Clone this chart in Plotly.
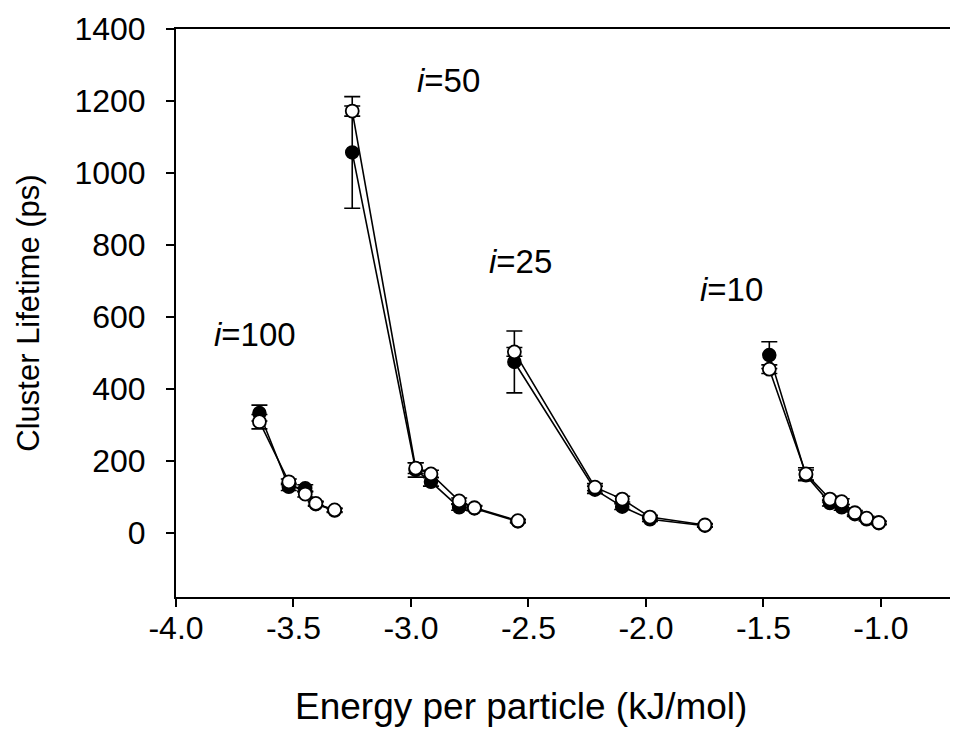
import plotly.graph_objects as go

# ---- data ----
groups = ["i=100", "i=50", "i=25", "i=10"]

energy_i100 = [-3.645, -3.52, -3.45, -3.405, -3.325]
filled_i100 = [333, 128, 124, 80, 62]
filled_err_i100 = [22, 10, 10, 6, 5]
open_i100 = [309, 142, 108, 82, 64]
open_err_i100 = [20, 8, 8, 6, 5]

energy_i50 = [-3.25, -2.98, -2.915, -2.795, -2.73, -2.545]
filled_i50 = [1057, 175, 142, 71, 68, 32]
filled_err_i50 = [155, 20, 12, 8, 6, 4]
open_i50 = [1172, 180, 164, 89, 70, 34]
open_err_i50 = [14, 15, 10, 8, 6, 4]

energy_i25 = [-2.56, -2.217, -2.101, -1.983, -1.749]
filled_i25 = [475, 120, 73, 38, 20]
filled_err_i25 = [86, 10, 8, 6, 4]
open_i25 = [503, 127, 94, 44, 22]
open_err_i25 = [12, 10, 8, 5, 4]

energy_i10 = [-1.475, -1.319, -1.217, -1.167, -1.111, -1.061, -1.009]
filled_i10 = [494, 160, 83, 71, 52, 38, 27]
filled_err_i10 = [37, 15, 8, 8, 6, 5, 4]
open_i10 = [455, 164, 94, 87, 56, 41, 29]
open_err_i10 = [12, 17, 8, 8, 6, 5, 4]

label_x = [-3.847, -2.983, -2.677, -1.779]
label_y = [550, 1258, 753, 675]

x_ticks = [-4.0, -3.5, -3.0, -2.5, -2.0, -1.5, -1.0]
y_ticks = [0, 200, 400, 600, 800, 1000, 1200, 1400]

series = [
    (energy_i100, filled_i100, filled_err_i100, open_i100, open_err_i100),
    (energy_i50, filled_i50, filled_err_i50, open_i50, open_err_i50),
    (energy_i25, filled_i25, filled_err_i25, open_i25, open_err_i25),
    (energy_i10, filled_i10, filled_err_i10, open_i10, open_err_i10),
]

FONT = "Liberation Sans, Arial, sans-serif"
fig = go.Figure()

# filled series first (drawn beneath), then open
for name, (x, yf, ef, yo, eo) in zip(groups, series):
    fig.add_trace(go.Scatter(
        x=x, y=yf, mode="lines+markers", name=name + " filled",
        line=dict(color="black", width=1.6),
        marker=dict(symbol="circle", size=13, color="black",
                    line=dict(color="black", width=1.5)),
        error_y=dict(type="data", array=ef, color="black", thickness=1.6, width=8),
        showlegend=False,
    ))
for name, (x, yf, ef, yo, eo) in zip(groups, series):
    fig.add_trace(go.Scatter(
        x=x, y=yo, mode="lines+markers", name=name + " open",
        line=dict(color="black", width=1.6),
        marker=dict(symbol="circle", size=13, color="white",
                    line=dict(color="black", width=1.8)),
        error_y=dict(type="data", array=eo, color="black", thickness=1.6, width=8),
        showlegend=False,
    ))

for g, lx, ly in zip(groups, label_x, label_y):
    txt = "<i>i</i>=" + g.split("=")[1]
    fig.add_annotation(x=lx, y=ly, text=txt, showarrow=False, xanchor="left",
                       yanchor="middle", font=dict(family=FONT, size=33, color="black"))

# x-axis title (placed as paper annotation to match the reference's offset)
fig.add_annotation(xref="paper", yref="paper", x=0.441, y=-0.1936,
                   text="Energy per particle (kJ/mol)", showarrow=False,
                   xanchor="center", yanchor="middle",
                   font=dict(family=FONT, size=37, color="black"))

fig.update_layout(
    width=950, height=723,
    margin=dict(l=168, r=0, t=21, b=134),
    paper_bgcolor="white", plot_bgcolor="white",
    font=dict(family=FONT, color="black"),
    xaxis=dict(
        range=[-4.0, -0.672], tickvals=x_ticks,
        ticktext=[f"{v:.1f}" for v in x_ticks],
        showline=True, linecolor="black", linewidth=2, mirror=True,
        ticks="outside", ticklen=8, tickwidth=2, tickcolor="black",
        showgrid=False, zeroline=False,
        tickfont=dict(family=FONT, size=32),
        ticklabelstandoff=-6,
    ),
    yaxis=dict(
        range=[-178, 1400], tickvals=y_ticks,
        showline=True, linecolor="black", linewidth=2,
        ticks="outside", ticklen=8, tickwidth=2, tickcolor="black",
        showgrid=False, zeroline=False,
        tickfont=dict(family=FONT, size=32),
        ticklabelstandoff=14,
        title=dict(text="Cluster Lifetime (ps)", font=dict(family=FONT, size=31), standoff=26),
    ),
)

fig.write_html("out.html")
